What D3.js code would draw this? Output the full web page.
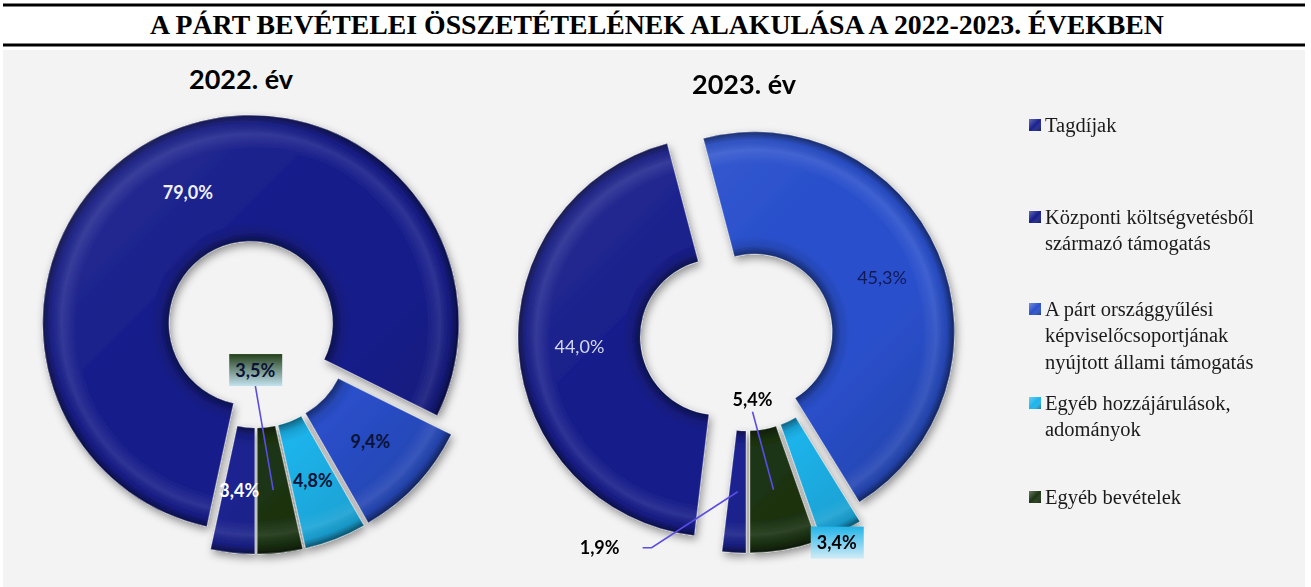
<!DOCTYPE html>
<html><head><meta charset="utf-8">
<script src="https://cdn.jsdelivr.net/npm/d3@7"></script>
<style>body{margin:0;background:#fff} svg{display:block}</style>
</head><body>
<svg id="chart" width="1311" height="587"></svg>
<script>
// ---------- DATA ----------
const title = "A PÁRT BEVÉTELEI ÖSSZETÉTELÉNEK ALAKULÁSA A 2022-2023. ÉVEKBEN";
const categories = [
  "Tagdíjak",
  "Központi költségvetésből származó támogatás",
  "A párt országgyűlési képviselőcsoportjának nyújtott állami támogatás",
  "Egyéb hozzájárulások, adományok",
  "Egyéb bevételek"
];
const legendLines = [
  ["Tagdíjak"],
  ["Központi költségvetésből", "származó támogatás"],
  ["A párt országgyűlési", "képviselőcsoportjának", "nyújtott állami támogatás"],
  ["Egyéb hozzájárulások,", "adományok"],
  ["Egyéb bevételek"]
];
const years = ["2022. év", "2023. év"];
const values2022 = [3.4, 79.0, 9.4, 4.8, 3.5];
const values2023 = [1.9, 44.0, 45.3, 3.4, 5.4];
const fmt = v => v.toFixed(1).replace(".", ",") + "%";

// ---------- STYLE / LAYOUT ----------
const colors = ["#1b228f", "#171d8a", "#2a50cc", "#1cb4ec", "#1c3512"];
const svg = d3.select("#chart");
const defs = svg.append("defs");

svg.append("rect").attr("x", 3).attr("y", 50).attr("width", 1302).attr("height", 537).attr("fill", "#f3f3f3");
svg.append("line").attr("x1", 3).attr("x2", 1305).attr("y1", 5).attr("y2", 5).attr("stroke", "#000").attr("stroke-width", 3);
svg.append("line").attr("x1", 3).attr("x2", 1305).attr("y1", 45).attr("y2", 45).attr("stroke", "#000").attr("stroke-width", 3);
const tt = svg.append("text").attr("x", 657).attr("y", 34).attr("text-anchor", "middle")
  .attr("font-family", "'Liberation Serif','Times New Roman',serif").attr("font-weight", "bold")
  .attr("font-size", 26).attr("fill", "#000").text(title);
const tw = tt.node().getComputedTextLength();
tt.attr("font-size", (26 * 1014 / tw).toFixed(2));

const f = defs.append("filter").attr("id", "shadow").attr("x", "-20%").attr("y", "-20%").attr("width", "140%").attr("height", "140%");
f.append("feDropShadow").attr("dx", 2).attr("dy", 4).attr("stdDeviation", 4).attr("flood-color", "#000").attr("flood-opacity", 0.4);

function vgrad(id, top, bottom) {
  const g = defs.append("linearGradient").attr("id", id).attr("x1", 0).attr("y1", 0).attr("x2", 0).attr("y2", 1);
  g.append("stop").attr("offset", 0).attr("stop-color", top);
  g.append("stop").attr("offset", 1).attr("stop-color", bottom);
}
vgrad("box-green", "#23401a", "#c2e2ef");
vgrad("box-cyan", "#22b4e8", "#d2ebf6");

const labelFont = "Lato, 'Open Sans', sans-serif";

const charts = [
  { id: "c22", values: values2022, cx: 256, cy: 334, R: 208, r: 82, explode: [12, 12, 12, 12, 12],
    year: years[0], yx: 241, yy: 80,
    labels: [
      { fill: "#ffffff", weight: "bold" },
      { fill: "#eef0fa", weight: "bold" },
      { fill: "#0c1236", weight: "bold" },
      { fill: "#0c1236", weight: "bold" },
      { fill: "#0c1236", weight: "bold", off: [-18, -120], box: "box-green", leader: [[0, 15]] }
    ] },
  { id: "c23", values: values2023, cx: 747, cy: 335, R: 200, r: 78, explode: [18, 29, 8, 18, 18],
    year: years[1], yx: 744, yy: 85,
    labels: [
      { fill: "#000", weight: "bold", off: [-138, 56], leader: [[43, 0], [52, 0]] },
      { fill: "#d5d9f0", weight: "normal" },
      { fill: "#111a55", weight: "normal" },
      { fill: "#000", weight: "bold", off: [22, 66], box: "box-cyan" },
      { fill: "#000", weight: "bold", off: [-21, -90], leader: [[0, 12]] }
    ] }
];

charts.forEach(cfg => {
  const pie = d3.pie().sort(null).value(d => d).startAngle(Math.PI).endAngle(3 * Math.PI);
  const arcs = pie(cfg.values);
  const arc = d3.arc().innerRadius(cfg.r).outerRadius(cfg.R);
  const g = svg.append("g").attr("transform", `translate(${cfg.cx},${cfg.cy})`);

  const rg = defs.append("radialGradient").attr("id", cfg.id + "-rg").attr("gradientUnits", "userSpaceOnUse")
    .attr("cx", 0).attr("cy", 0).attr("r", cfg.R);
  const k = cfg.r / cfg.R;
  [[k, "#000", 0.45], [k + 0.04, "#000", 0.12], [k + 0.09, "#000", 0], [0.84, "#fff", 0], [0.91, "#fff", 0.1], [0.96, "#000", 0.06], [1, "#000", 0.5]]
    .forEach(s => rg.append("stop").attr("offset", s[0]).attr("stop-color", s[1]).attr("stop-opacity", s[2]));
  const lg = defs.append("linearGradient").attr("id", cfg.id + "-lg").attr("gradientUnits", "userSpaceOnUse")
    .attr("x1", -cfg.R).attr("y1", -cfg.R).attr("x2", cfg.R).attr("y2", cfg.R);
  [[0, "#fff", 0.1], [0.4, "#fff", 0], [0.65, "#000", 0], [1, "#000", 0.22]]
    .forEach(s => lg.append("stop").attr("offset", s[0]).attr("stop-color", s[1]).attr("stop-opacity", s[2]));

  const sl = g.append("g").attr("filter", "url(#shadow)");
  const offs = arcs.map((a, i) => {
    const mid = (a.startAngle + a.endAngle) / 2, e = cfg.explode[i];
    return [e * Math.sin(mid), -e * Math.cos(mid)];
  });
  arcs.forEach((a, i) => {
    const sg = sl.append("g").attr("transform", `translate(${offs[i][0]},${offs[i][1]})`);
    sg.append("path").attr("d", arc(a)).attr("fill", colors[i]);
    sg.append("path").attr("d", arc(a)).attr("fill", `url(#${cfg.id}-rg)`);
    sg.append("path").attr("d", arc(a)).attr("fill", `url(#${cfg.id}-lg)`)
      .attr("stroke", "rgba(255,255,255,0.35)").attr("stroke-width", 0.8);
  });

  arcs.forEach((a, i) => {
    const st = cfg.labels[i];
    const c = arc.centroid(a);
    const px = c[0] + offs[i][0], py = c[1] + offs[i][1];
    const o = st.off || [0, 0];
    const lx = px + o[0], ly = py + o[1];
    if (st.leader) {
      const pts = st.leader.map(p => [lx + p[0], ly + p[1]]).concat([[px, py]]);
      g.append("path").attr("d", d3.line()(pts)).attr("fill", "none").attr("stroke", "#5a4de6").attr("stroke-width", 1.6);
    }
    if (st.box) {
      g.append("rect").attr("x", lx - 26).attr("y", ly - 16).attr("width", 53).attr("height", 32).attr("fill", `url(#${st.box})`);
    }
    g.append("text").attr("x", lx).attr("y", ly).attr("dy", "0.36em").attr("text-anchor", "middle")
      .attr("font-family", labelFont).attr("font-size", 18).attr("font-weight", st.weight)
      .attr("fill", st.fill).text(fmt(cfg.values[i]));
  });

  svg.append("text").attr("x", cfg.yx).attr("y", cfg.yy).attr("dy", "0.35em").attr("text-anchor", "middle")
    .attr("font-family", labelFont).attr("font-weight", "bold").attr("font-size", 27).attr("fill", "#000")
    .text(cfg.year);
});

// legend
const legendY = [125, 217, 309, 403, 497];
const mg = defs.append("linearGradient").attr("id", "mk").attr("x1", 0).attr("y1", 0).attr("x2", 1).attr("y2", 1);
[[0, "#fff", 0.35], [0.5, "#fff", 0], [1, "#000", 0.35]].forEach(s => mg.append("stop").attr("offset", s[0]).attr("stop-color", s[1]).attr("stop-opacity", s[2]));
const leg = svg.append("g");
categories.forEach((c, i) => {
  const y = legendY[i];
  leg.append("rect").attr("x", 1029).attr("y", y - 6).attr("width", 12).attr("height", 12).attr("fill", colors[i]);
  leg.append("rect").attr("x", 1029).attr("y", y - 6).attr("width", 12).attr("height", 12).attr("fill", "url(#mk)");
  const t = leg.append("text").attr("x", 1045).attr("y", y).attr("font-family", "'Liberation Serif','Times New Roman',serif")
    .attr("font-size", 20.5).attr("fill", "#1a1a1a");
  legendLines[i].forEach((ln, j) => t.append("tspan").attr("x", 1045).attr("y", y + j * 26.5).attr("dy", "0.33em").text(ln));
});
</script>
</body></html>
